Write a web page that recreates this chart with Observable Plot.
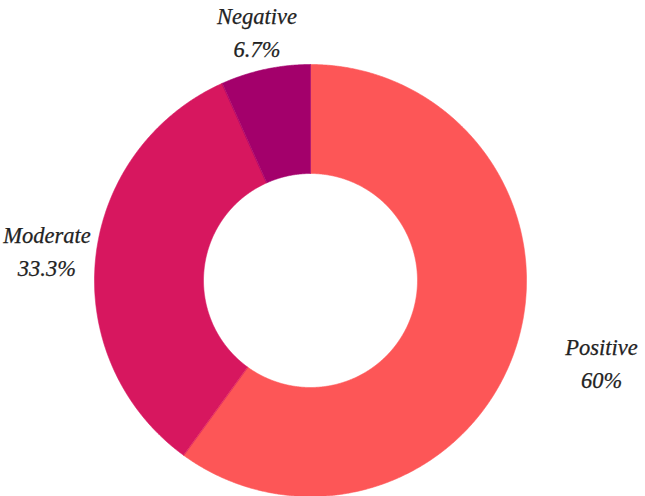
<!DOCTYPE html>
<html>
<head>
<meta charset="utf-8">
<script src="https://cdn.jsdelivr.net/npm/d3@7"></script>
<script src="https://cdn.jsdelivr.net/npm/@observablehq/plot@0.6"></script>
<style>
  html, body { margin: 0; padding: 0; background: #fff; }
</style>
</head>
<body>
<div id="chart"></div>
<script>
// ---- data ----
const categories = ["Positive", "Moderate", "Negative"];
const values = [60, 33.3, 6.7];
const valueLabels = ["60%", "33.3%", "6.7%"];
const colors = ["#FD5657", "#D7175F", "#A3006B"];

// ---- layout ----
const W = 645, H = 496;
const cx = 310, cy = 280;      // pixel centre of the ring
const outerR = 216, innerR = 107;
const labelLayout = {
  Positive: { r: 306, dy: -14 },
  Moderate: { r: 265, dy: -4 },
  Negative: { r: 256, dy: 0 }
};

const total = d3.sum(values);
let acc = 0;
const slices = categories.map((name, i) => {
  const a0 = acc / total * 2 * Math.PI;
  acc += values[i];
  const a1 = acc / total * 2 * Math.PI;
  return { name, value: values[i], label: valueLabels[i], a0, a1 };
});

// polygon outline of each ring segment (angle measured clockwise from 12 o'clock)
const pts = [];
for (const s of slices) {
  const n = Math.max(8, Math.ceil((s.a1 - s.a0) / 0.005));
  for (let k = 0; k <= n; k++) {
    const a = s.a0 + (s.a1 - s.a0) * k / n;
    pts.push({ name: s.name, x: outerR * Math.sin(a), y: -outerR * Math.cos(a) });
  }
  for (let k = n; k >= 0; k--) {
    const a = s.a0 + (s.a1 - s.a0) * k / n;
    pts.push({ name: s.name, x: innerR * Math.sin(a), y: -innerR * Math.cos(a) });
  }
}

const labelData = slices.map(s => {
  const m = (s.a0 + s.a1) / 2;
  const L = labelLayout[s.name];
  return {
    x: L.r * Math.sin(m),
    y: -L.r * Math.cos(m) + L.dy,
    text: s.name + "\n" + s.label
  };
});

const chart = Plot.plot({
  width: W,
  height: H,
  margin: 0,
  x: { domain: [-cx, W - cx], range: [0, W], axis: null },
  y: { domain: [-cy, H - cy], range: [0, H], axis: null },
  color: { domain: categories, range: colors },
  marks: [
    Plot.line(pts, {
      x: "x", y: "y", z: "name",
      fill: "name", stroke: "name", strokeWidth: 0.6,
      curve: "linear-closed"
    }),
    Plot.text(labelData, {
      x: "x", y: "y", text: "text",
      fontFamily: "Liberation Serif, DejaVu Serif, serif",
      fontStyle: "italic",
      fontSize: 22.5,
      lineHeight: 1.45,
      fill: "#222",
      stroke: "#222",
      strokeWidth: 0.25,
      textAnchor: "middle"
    })
  ]
});

document.getElementById("chart").appendChild(chart);
</script>
</body>
</html>
